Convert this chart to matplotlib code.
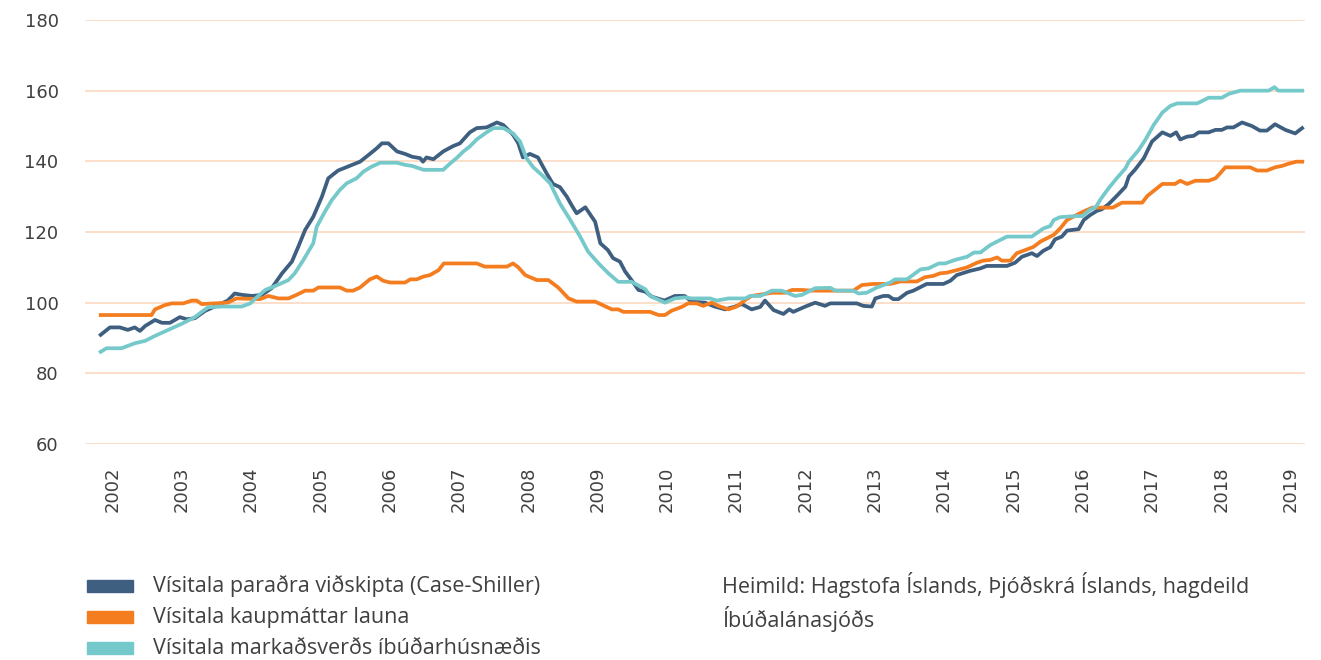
import matplotlib
matplotlib.use("Agg")
import matplotlib.pyplot as plt
from matplotlib.patches import Rectangle

# --- data (months counted from Nov 2001) ---
cs_months = [0, 1.6, 3.3, 4.7, 5.9, 6.8, 7.7, 9.4, 10.6, 12.0, 13.7, 14.9, 16.3, 18.1, 20.3, 22.0,
             23.2, 24.5, 26.2, 27.9, 29.6, 31.4, 33.1, 34.2, 35.4, 36.8, 38.3, 39.4, 41.1, 43.1,
             44.9, 46.6, 47.8, 48.7, 49.8, 51.3, 52.7, 53.9, 55.3, 55.8, 56.4, 57.6, 59.3, 61.0,
             62.2, 63.9, 65.1, 66.8, 68.6, 69.7, 71.4, 72.3, 73.1, 74.3, 75.7, 77.2, 78.3, 79.5,
             80.7, 81.6, 82.4, 83.9, 85.6, 86.5, 87.8, 88.7, 89.9, 90.8, 91.9, 93.1, 94.3, 95.4,
             97.6, 99.4, 101.1, 102.3, 104.6, 106.3, 108.1, 109.8, 111.0, 112.7, 114.2, 115.0,
             116.5, 118.2, 119.2, 119.9, 122.0, 123.7, 125.4, 126.3, 130.9, 132.0, 133.5, 134.1,
             135.5, 136.4, 137.2, 138.1, 139.6, 140.7, 143.0, 145.9, 147.1, 148.2, 150.5, 152.3,
             153.4, 156.9, 158.3, 159.5, 161.2, 162.1, 163.2, 164.4, 165.2, 166.4, 167.3, 169.3,
             170.2, 171.3, 172.5, 173.3, 174.5, 175.9, 177.4, 178.0, 179.1, 180.6, 182.0, 183.8,
             185.2, 186.2, 186.9, 188.1, 189.2, 190.1, 191.8, 193.0, 194.1, 195.0, 196.1, 197.6,
             199.3, 200.7, 201.9, 203.3, 205.1, 206.8, 208.0]
cs_values = [90.9, 93.0, 93.0, 92.3, 93.0, 92.0, 93.4, 95.1, 94.3, 94.3, 95.9, 95.3, 95.6, 97.7, 99.3, 100.6,
             102.6, 102.2, 101.9, 102.2, 104.1, 108.3, 111.6, 115.8, 120.6, 124.3, 130.0, 135.2, 137.4, 138.7,
             139.9, 142.1, 143.7, 145.1, 145.1, 142.8, 142.1, 141.3, 140.9, 139.9, 141.1, 140.6, 142.8, 144.3,
             145.1, 148.2, 149.4, 149.6, 151.0, 150.3, 147.5, 145.1, 141.1, 142.1, 141.1, 136.6, 133.6, 132.7,
             130.0, 127.4, 125.3, 127.0, 122.9, 116.8, 114.9, 112.6, 111.6, 108.8, 106.4, 103.6, 103.1, 101.7,
             100.6, 101.9, 101.9, 100.3, 100.0, 98.9, 98.1, 98.9, 99.6, 98.1, 98.8, 100.6,
             97.9, 96.8, 98.1, 97.4, 98.9, 100.0, 99.1, 99.8, 99.8, 99.1, 98.9, 101.2,
             101.9, 101.9, 101.0, 101.0, 102.8, 103.4, 105.3, 105.3, 106.2, 107.8, 109.0, 109.7,
             110.4, 110.4, 111.3, 113.0, 114.0, 113.2, 114.7, 115.7, 117.9, 118.7, 120.4, 120.8,
             123.4, 124.8, 126.0, 126.4, 127.9, 130.2, 132.8, 135.7, 137.7, 140.9, 145.6, 148.2,
             147.2, 148.2, 146.2, 147.0, 147.2, 148.2, 148.2, 148.9, 148.9, 149.6, 149.6, 151.0,
             150.0, 148.7, 148.7, 150.5, 148.9, 147.9, 149.4]

wage_months = [0, 8.8, 9.4, 11.1, 12.3, 14.3, 15.8, 16.6, 17.5, 22.0, 23.5, 27.6, 29.0, 30.8, 32.5,
               33.9, 35.4, 36.8, 37.7, 41.4, 42.6, 43.7, 44.9, 46.6, 47.8, 48.9, 50.1, 52.7, 53.6,
               54.7, 55.9, 57.0, 58.5, 59.4, 65.1, 66.5, 70.3, 71.4, 72.3, 73.5, 75.5, 77.5, 79.2,
               81.0, 82.4, 85.6, 87.3, 88.5, 89.6, 90.5, 95.1, 96.6, 97.7, 98.8, 100.6, 101.7, 103.2,
               104.3, 105.8, 106.9, 108.7, 110.1, 111.6, 112.7, 116.2, 118.5, 119.7, 121.4, 123.1,
               130.3, 131.8, 133.8, 136.7, 138.4, 141.3, 142.7, 144.2, 145.3, 146.5, 148.2, 150.0,
               151.7, 152.8, 154.0, 155.2, 156.0, 157.5, 158.6, 160.4, 161.5, 162.7, 163.8, 165.0,
               166.1, 167.3, 168.7, 170.0, 171.7, 175.2, 176.8, 180.3, 181.2, 183.8, 186.0, 186.9,
               188.1, 189.5, 191.8, 193.0, 193.8, 194.7, 199.0, 200.2, 201.9, 203.3, 204.5, 205.6,
               207.0, 208.0]
wage_values = [96.5, 96.5, 98.1, 99.3, 99.8, 99.8, 100.6, 100.6, 99.6, 100.0, 101.2, 101.0, 101.9, 101.2, 101.2,
               102.2, 103.4, 103.4, 104.3, 104.3, 103.4, 103.4, 104.3, 106.6, 107.4, 106.2, 105.7, 105.7, 106.6,
               106.6, 107.4, 107.8, 109.2, 111.1, 111.1, 110.2, 110.2, 111.1, 110.0, 107.8, 106.4, 106.4, 104.3,
               101.2, 100.3, 100.3, 99.0, 98.1, 98.1, 97.4, 97.4, 96.5, 96.5, 97.7, 98.8, 99.8, 99.8,
               99.1, 100.0, 99.1, 98.1, 98.9, 100.8, 101.9, 102.8, 102.8, 103.6, 103.6, 103.4,
               103.4, 105.0, 105.3, 105.3, 106.0, 106.0, 107.2, 107.6, 108.3, 108.5, 109.2, 110.0,
               111.3, 111.9, 112.1, 112.8, 111.9, 111.9, 114.0, 115.1, 115.8, 117.3, 118.2, 119.2,
               121.0, 123.4, 124.6, 125.7, 126.9, 126.9, 128.3, 128.3, 130.2, 133.6, 133.6, 134.5,
               133.6, 134.5, 134.5, 135.2, 136.6, 138.3, 138.3, 137.4, 137.4, 138.3, 138.7, 139.3,
               139.9, 139.9]

market_months = [0, 1.0, 3.6, 5.9, 7.7, 9.4, 11.7, 14.0, 16.3, 17.5, 18.6, 21.0, 24.4, 25.9, 27.0,
                 28.5, 30.2, 32.5, 33.6, 35.1, 36.8, 37.4, 38.8, 40.0, 41.4, 42.6, 44.3, 45.5, 46.9,
                 48.4, 51.3, 52.7, 53.9, 55.9, 59.3, 60.5, 61.6, 62.8, 63.9, 65.1, 66.8, 68.0, 69.7,
                 71.4, 72.6, 73.7, 74.9, 76.4, 77.8, 79.5, 81.3, 83.0, 84.4, 86.2, 87.9, 89.6, 91.9,
                 94.3, 95.1, 97.7, 99.4, 101.1, 102.3, 105.5, 106.7, 108.7, 111.6, 112.4, 114.2,
                 116.2, 117.9, 120.2, 121.4, 123.7, 126.3, 127.2, 130.3, 131.2, 132.6, 134.4, 136.7,
                 137.5, 139.6, 141.9, 143.3, 145.1, 146.2, 147.9, 150.0, 151.2, 152.3, 154.0, 155.2,
                 156.9, 161.2, 162.4, 163.2, 164.4, 165.0, 166.1, 168.7, 170.0, 171.2, 172.3, 173.2,
                 174.5, 175.9, 177.4, 178.0, 179.7, 180.9, 182.3, 183.8, 185.2, 186.4, 189.8, 190.6,
                 191.8, 194.1, 195.3, 197.3, 202.2, 203.2, 203.9, 208.0]
market_values = [86.1, 87.1, 87.1, 88.5, 89.2, 90.6, 92.3, 94.0, 95.9, 97.4, 98.7, 98.9, 98.9, 99.8, 101.5,
                 103.6, 104.7, 106.4, 108.3, 112.1, 116.8, 121.5, 125.7, 129.0, 131.9, 133.8, 135.2, 137.1, 138.5,
                 139.6, 139.6, 139.0, 138.7, 137.6, 137.6, 139.4, 140.9, 142.8, 144.2, 146.2, 148.2, 149.4, 149.4,
                 147.9, 145.6, 140.9, 138.3, 136.1, 133.8, 128.1, 123.4, 118.7, 114.4, 111.1, 108.3, 105.9, 105.9,
                 103.8, 101.9, 100.0, 101.2, 101.5, 101.2, 101.2, 100.6, 101.2, 101.2, 101.9, 101.9,
                 103.4, 103.4, 101.9, 102.2, 104.1, 104.2, 103.4, 103.4, 102.6, 102.8, 104.3, 105.7,
                 106.6, 106.6, 109.4, 109.7, 111.1, 111.1, 112.1, 113.0, 114.2, 114.2, 116.3, 117.3,
                 118.7, 118.7, 120.1, 121.0, 121.7, 123.4, 124.2, 124.5, 124.5, 126.2, 127.1, 129.5,
                 132.4, 135.2, 138.0, 139.9, 143.2, 146.2, 150.3, 153.8, 155.7, 156.4, 156.4, 157.0,
                 158.0, 158.0, 159.1, 160.0, 160.0, 161.0, 160.0, 160.0]

labels = ["Vísitala paraðra viðskipta (Case-Shiller)",
          "Vísitala kaupmáttar launa",
          "Vísitala markaðsverðs íbúðarhúsnæðis"]
colors = ["#3F5F80", "#F47D20", "#76C9CA"]
years = list(range(2002, 2020))
yticks = list(range(60, 181, 20))
source = "Heimild: Hagstofa Íslands, Þjóðskrá Íslands, hagdeild\nÍbúðalánasjóðs"


def to_year(months):
    # month 0 = November 2001
    return [2001 + (10 + m) / 12 for m in months]


W, H = 1321, 660
fig = plt.figure(figsize=(W / 100, H / 100), dpi=100)
ax = fig.add_axes([85 / W, 1 - 444 / H, 1220 / W, 424 / H])

series = [(cs_months, cs_values), (wage_months, wage_values), (market_months, market_values)]
for (m, v), c in zip(series, colors):
    ax.plot(to_year(m), v, color=c, lw=2.7, solid_joinstyle="round", zorder=3)

ax.set_xlim(2001.607, 2019.208)
ax.set_ylim(60, 180)
ax.set_yticks(yticks)
ax.set_xticks(years)
ax.set_xticklabels([str(y) for y in years], rotation=90, fontsize=13,
                   family="DejaVu Sans", color="#404040")
ax.set_yticklabels([str(y) for y in yticks], fontsize=13, family="DejaVu Sans", color="#404040")
ax.tick_params(axis="both", length=0)
ax.tick_params(axis="y", pad=19)
ax.tick_params(axis="x", pad=16)
ax.grid(axis="y", color="#FBDCC6", lw=1.3, zorder=0)
for s in ax.spines.values():
    s.set_visible(False)

# legend, drawn by hand at the bottom left
rows = [586, 617, 648]
for lab, c, yc in zip(labels, colors, rows):
    fig.add_artist(Rectangle((87 / W, 1 - (yc + 6) / H), 46 / W, 12 / H,
                             transform=fig.transFigure, color=c))
    fig.text(153 / W, 1 - yc / H, lab, fontsize=15.5, family="Open Sans",
             color="#404040", va="center", ha="left")

fig.text(722 / W, 1 - 572 / H, source, fontsize=15.5, family="Open Sans",
         color="#404040", va="top", ha="left", linespacing=1.38)

fig.savefig("out.png", dpi=100)
